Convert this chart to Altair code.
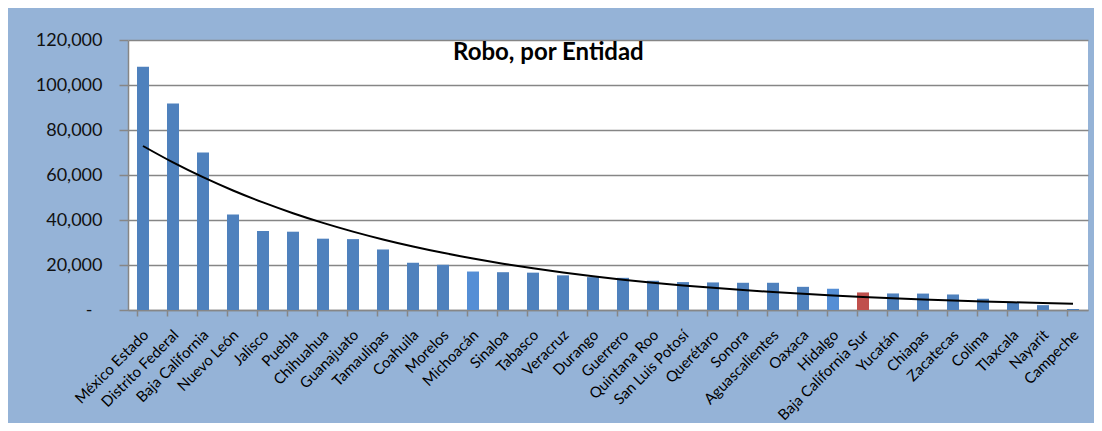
import altair as alt
import numpy as np
import pandas as pd

estados = ["México Estado", "Distrito Federal", "Baja California", "Nuevo León", "Jalisco",
           "Puebla", "Chihuahua", "Guanajuato", "Tamaulipas", "Coahuila", "Morelos",
           "Michoacán", "Sinaloa", "Tabasco", "Veracruz", "Durango", "Guerrero",
           "Quintana Roo", "San Luis Potosí", "Querétaro", "Sonora", "Aguascalientes",
           "Oaxaca", "Hidalgo", "Baja California Sur", "Yucatán", "Chiapas", "Zacatecas",
           "Colima", "Tlaxcala", "Nayarit", "Campeche"]
robos = [108100, 91800, 70000, 42500, 35100, 34800, 31700, 31500, 26900, 21000, 20100,
         17100, 16800, 16600, 15400, 14600, 14300, 13000, 12400, 12250, 12100, 12100,
         10300, 9450, 7800, 7350, 7300, 6900, 5000, 3200, 2150, 450]
destacado = ["Baja California Sur"]
claros = ["Michoacán", "Hidalgo"]
y_ticks = [0, 20000, 40000, 60000, 80000, 100000, 120000]

# Exponential trend (least squares on log values, as a spreadsheet trendline)
idx = np.arange(1, len(robos) + 1)
coef = np.polyfit(idx, np.log(robos), 1)
tendencia = np.exp(np.polyval(coef, idx))

grupo = ["destacado" if e in destacado else ("claro" if e in claros else "normal") for e in estados]
df = pd.DataFrame({"estado": estados, "robos": robos, "tendencia": tendencia, "grupo": grupo})

FONT = "Lato"
GRID = "#868686"

x_enc = alt.X(
    "estado:N", sort=estados,
    scale=alt.Scale(paddingInner=0.6, paddingOuter=0.3),
    axis=alt.Axis(orient="bottom", title=None, labelAngle=-45, labelAlign="right",
                  labelBaseline="middle", labelFont=FONT, labelFontSize=15,
                  labelColor="#000000", labelPadding=16, labelOffset=3, labelOverlap=False,
                  ticks=True, bandPosition=0, tickSize=6, tickColor=GRID, tickWidth=1.5,
                  domainColor=GRID, domainWidth=1.5),
)

y_axis = alt.Axis(
    values=y_ticks,
    title=None,
    labelExpr="datum.value == 0 ? '-' : format(datum.value, ',')",
    labelFont=FONT, labelFontSize=18, labelColor="#111111",
    labelPadding={"condition": {"test": "datum.value == 0", "value": 27}, "value": 17},
    tickSize=9, tickColor=GRID, tickWidth=1.5,
    domainColor=GRID, domainWidth=1.5,
    gridColor=GRID, gridWidth=1.5,
)
y_scale = alt.Scale(domain=[0, 120000], nice=False)

bars = alt.Chart(df).mark_bar().encode(
    x=x_enc,
    y=alt.Y("robos:Q", scale=y_scale, axis=y_axis),
    color=alt.Color("grupo:N",
                    scale=alt.Scale(domain=["normal", "claro", "destacado"],
                                    range=["#4F81BD", "#558ED5", "#C0504D"]),
                    legend=None),
)

trend = alt.Chart(df).mark_line(color="black", strokeWidth=2, interpolate="monotone").encode(
    x=x_enc,
    y=alt.Y("tendencia:Q", scale=y_scale, axis=y_axis),
)

chart = alt.layer(bars, trend).properties(
    width=960,
    height=270,
    padding={"left": 120, "top": 32, "right": 6, "bottom": 113},
    autosize=alt.AutoSizeParams(type="none"),
    background="#95B3D7",
    title=alt.TitleParams("Robo, por Entidad", anchor="start", frame="group", dx=325, dy=53,
                          offset=0, baseline="alphabetic", fontSize=24, font=FONT,
                          fontWeight="bold", color="#000000"),
).configure_view(stroke=None, fill="white")

chart.save("out.html", embed_options={"renderer": "svg", "actions": False})
